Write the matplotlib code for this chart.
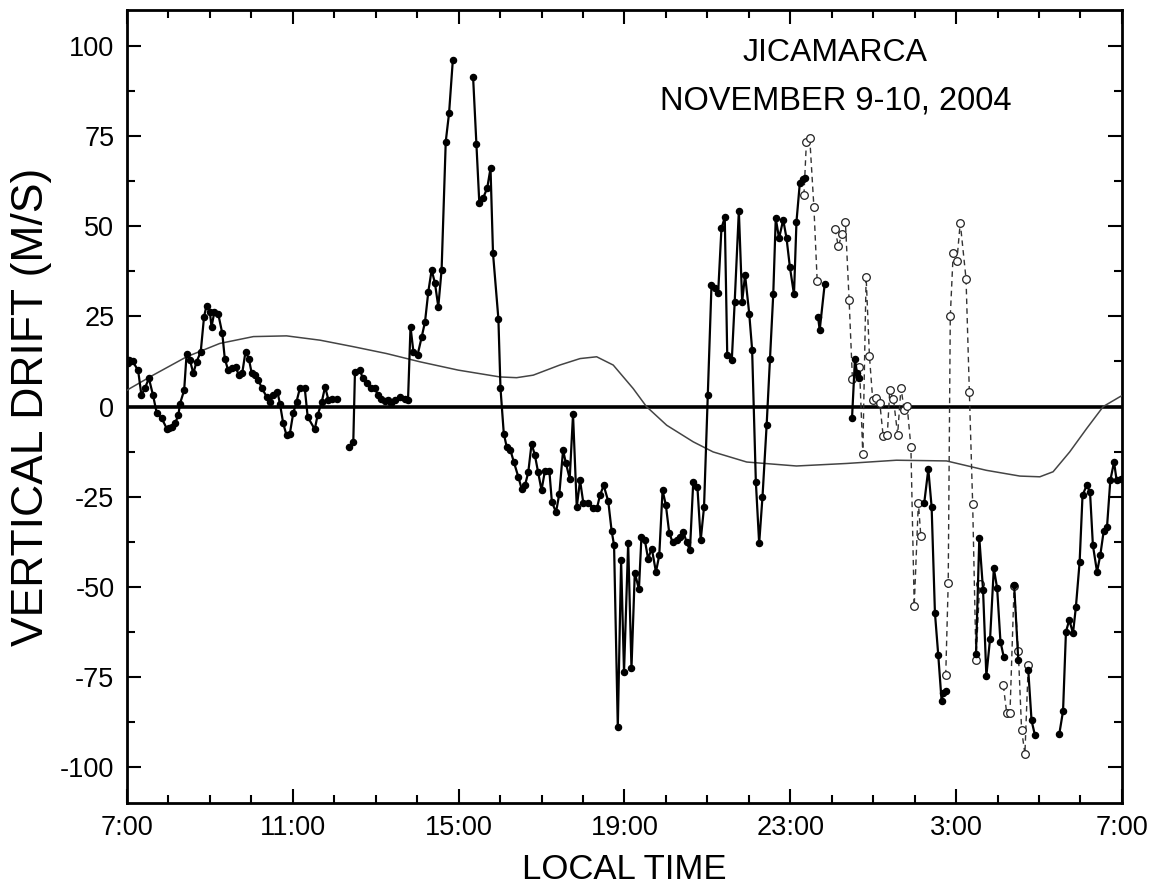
import numpy as np
import matplotlib.pyplot as plt
from matplotlib.ticker import MultipleLocator

plt.rcParams['font.family'] = ['Liberation Sans', 'DejaVu Sans']
plt.rcParams['axes.unicode_minus'] = False

nan = np.nan

# hours after 07:00 LT, drift in m/s ; nan marks a data gap
solid_t = [0.02, 0.05, 0.14, 0.27, 0.35, 0.43, 0.53, 0.63, 0.72, 0.84, 0.96, 1.01, 1.08, 1.16,
           1.24, 1.28, 1.38, 1.44, 1.52, 1.60, 1.68, 1.78, 1.86, 1.92, 2.00, 2.04, 2.11, 2.20,
           2.30, 2.36, 2.44, 2.53, 2.62, 2.70, 2.78, 2.86, 2.94, 3.01, 3.09, 3.17, 3.26, 3.37,
           3.45, 3.53, 3.63, 3.69, 3.77, 3.85, 3.93, 4.01, 4.09, 4.17, 4.29, 4.36, 4.53, 4.60,
           4.70, 4.78, 4.86, 4.94, 5.06, nan,
           5.36, 5.46, 5.50, 5.62, 5.69, 5.78, 5.88, 5.98, 6.06, 6.14, 6.22, 6.30, 6.38, 6.46,
           6.58, 6.71, 6.78, 6.84, 6.91, 7.01, 7.11, 7.19, 7.27, 7.35, 7.43, 7.51, 7.59, 7.69,
           7.77, 7.86, nan,
           8.35, 8.43, 8.50, 8.59, 8.69, 8.77, 8.83, 8.96, 9.01, 9.09, 9.16, 9.25, 9.33, 9.44,
           9.52, 9.60, 9.68, 9.76, 9.84, 9.92, 10.00, 10.08, 10.19, 10.25, 10.35, 10.43, 10.52,
           10.59, 10.68, 10.76, 10.85, 10.93, 11.01, 11.13, 11.25, 11.34, 11.41, 11.50, 11.61,
           11.69, 11.75, 11.84, 11.92, 11.99, 12.09, 12.17, 12.25, 12.35, 12.41, 12.49, 12.57,
           12.66, 12.76, 12.84, 12.92, 13.00, 13.08, 13.16, 13.26, 13.34, 13.42, 13.50, 13.58,
           13.66, 13.76, 13.84, 13.92, 14.01, 14.10, 14.18, 14.26, 14.34, 14.42, 14.48, 14.59,
           14.66, 14.76, 14.84, 14.91, 15.01, 15.08, 15.17, 15.25, 15.33, 15.43, 15.51, 15.59,
           15.65, 15.73, 15.83, 15.91, 15.99, 16.09, 16.15, 16.23, 16.31, 16.35, nan,
           16.67, 16.71, 16.83, nan,
           17.49, 17.56, 17.61, 17.66, nan,
           19.23, 19.33, 19.41, 19.49, 19.57, 19.65, 19.69, 19.75, nan,
           20.48, 20.56, 20.65, 20.73, 20.82, 20.91, 20.99, 21.07, 21.15, nan,
           21.40, 21.50, nan,
           21.74, 21.82, 21.90, nan,
           22.49, 22.58, 22.65, 22.73, 22.82, 22.89, 22.98, 23.05, 23.15, 23.23, 23.30, 23.40,
           23.48, 23.56, 23.64, 23.72, 23.81, 23.87, 23.97]
solid_v = [12.0, 13.0, 12.5, 10.0, 3.1, 5.0, 7.8, 3.1, -1.9, -3.3, -6.1, -6.0, -5.6, -4.7,
           -2.4, 0.8, 4.5, 14.7, 12.9, 9.2, 12.4, 15.2, 24.9, 28.0, 26.3, 22.1, 26.3, 25.8,
           20.3, 13.3, 10.1, 10.6, 11.0, 8.7, 9.2, 15.2, 13.3, 9.2, 8.7, 7.3, 5.0, 2.7,
           1.3, 3.1, 4.1, 0.8, -4.7, -8.0, -7.5, -1.9, 1.3, 5.0, 5.0, -2.9, -6.3, -2.4,
           1.3, 5.5, 1.8, 2.2, 2.2, nan,
           -11.2, -9.8, 9.6, 10.1, 7.8, 6.4, 5.2, 5.0, 3.1, 2.2, 1.5, 1.8, 1.1, 1.8,
           2.7, 2.2, 1.8, 22.1, 15.2, 14.3, 19.3, 23.5, 31.9, 37.9, 34.2, 27.7, 37.9, 73.5,
           81.4, 96.0, nan,
           91.3, 72.8, 56.4, 57.8, 60.6, 66.1, 42.5, 24.3, 5.1, -7.5, -11.2, -12.1, -15.3, -19.5,
           -22.8, -21.9, -18.3, -10.3, -13.5, -18.3, -23.2, -18.0, -18.0, -26.5, -29.3, -24.2, -12.1,
           -15.8, -20.0, -2.2, -27.9, -20.5, -26.9, -26.9, -28.1, -28.1, -24.6, -21.9, -26.3,
           -34.4, -38.5, -89.0, -42.7, -73.7, -38.0, -72.6, -46.1, -50.7, -36.2, -36.9, -42.2,
           -39.4, -45.9, -41.3, -23.2, -27.4, -35.0, -37.6, -37.1, -36.2, -34.8, -37.6, -39.9,
           -20.9, -22.3, -37.1, -27.9, 3.1, 33.7, 32.8, 31.4, 49.4, 52.5, 14.3, 12.9,
           29.1, 54.3, 29.1, 36.5, 25.8, 15.8, -20.9, -38.0, -25.1, -5.2, 13.3, 31.2,
           52.2, 46.7, 51.8, 46.7, 38.8, 31.1, 51.3, 61.9, 63.0, 63.5, nan,
           24.9, 21.2, 33.9, nan,
           -3.2, 13.1, 9.4, 7.8, nan,
           -26.9, -17.4, -27.9, -57.3, -69.0, -81.6, -79.5, -78.8, nan,
           -68.6, -36.5, -50.8, -74.7, -64.4, -44.9, -50.4, -65.2, -69.5, nan,
           -49.5, -70.3, nan,
           -73.0, -87.1, -91.1, nan,
           -90.8, -84.5, -62.5, -59.2, -62.9, -55.6, -43.1, -24.6, -21.9, -23.6, -38.5, -45.9,
           -41.1, -34.6, -33.5, -20.5, -15.4, -20.3, -20.2]

open_t = [16.33, 16.39, 16.47, 16.57, 16.65, nan,
          17.08, 17.16, 17.25, 17.33, 17.42, 17.50, 17.67, 17.75, 17.83, 17.91, 17.99, 18.08,
          18.16, 18.24, 18.34, 18.40, 18.49, 18.59, 18.67, 18.75, 18.82, 18.91, 18.99, 19.09,
          19.15, nan,
          19.75, 19.81, 19.86, 19.93, 20.02, 20.10, 20.24, 20.32, 20.40, 20.48, 20.57, nan,
          21.14, 21.22, 21.30, 21.40, 21.50, 21.58, 21.66, 21.74]
open_v = [58.7, 73.5, 74.5, 55.4, 34.7, nan,
          49.3, 44.4, 48.0, 51.3, 29.5, 7.5, 11.1, -13.3, 36.0, 14.0, 1.7, 2.3,
          1.0, -8.1, -8.0, 4.5, 2.0, -7.8, 5.2, -1.0, 0.1, -11.2, -55.4, -26.7,
          -36.0, nan,
          -74.6, -49.0, 25.0, 42.5, 40.5, 51.0, 35.4, 4.1, -27.1, -70.3, -49.2, nan,
          -77.4, -85.0, -85.0, -49.7, -67.7, -89.7, -96.4, -71.8]

# model (climatological) drift curve
model_t = [0.0, 0.07, 0.63, 1.44, 2.24, 3.05, 3.85, 4.66, 5.46, 6.26, 7.07, 7.99, 9.0, 9.4,
           9.8, 10.44, 10.93, 11.33, 11.73, 12.21, 12.53, 13.02, 13.66, 14.14, 14.95, 16.15,
           17.36, 18.56, 19.77, 20.73, 21.54, 22.02, 22.34, 22.74, 23.15, 23.55, 23.95, 24.0]
model_v = [4.5, 5.0, 8.7, 13.8, 17.5, 19.4, 19.6, 18.4, 16.6, 14.7, 12.4, 10.1, 8.2, 8.0,
           8.7, 11.5, 13.3, 13.8, 11.5, 5.0, 0.0, -5.2, -9.8, -12.6, -15.4, -16.5,
           -15.8, -14.9, -15.1, -17.7, -19.3, -19.5, -18.1, -12.6, -6.1, 0.0, 2.7, 3.0]

tick_labels = ['7:00', '11:00', '15:00', '19:00', '23:00', '3:00', '7:00']

fig = plt.figure(figsize=(11.54, 8.96), dpi=100)
ax = fig.add_axes([0.110, 0.1038, 0.8622, 0.885])

ax.axhline(0, color='black', lw=2.6, zorder=2)
ax.plot(model_t, model_v, color='#444444', lw=1.1, zorder=3)
ax.plot(open_t, open_v, color='#333333', lw=1.0, ls=(0, (4, 3)), marker='o', ms=5.5,
        mfc='white', mec='#222222', mew=0.9, zorder=4)
ax.plot(solid_t, solid_v, color='black', lw=1.6, marker='o', ms=4.4, mfc='black',
        mec='black', zorder=5)

ax.set_xlim(0, 24)
ax.set_ylim(-110, 110)
ax.set_xticks(np.arange(0, 25, 4))
ax.set_xticklabels(tick_labels)
ax.xaxis.set_minor_locator(MultipleLocator(1))
ax.set_yticks([-100, -75, -50, -25, 0, 25, 50, 75, 100])
ax.yaxis.set_minor_locator(MultipleLocator(12.5))
ax.tick_params(which='both', direction='in', top=True, right=True, width=1.5)
ax.tick_params(which='major', length=10, labelsize=19.5, pad=9)
ax.tick_params(which='minor', length=6)
for s in ax.spines.values():
    s.set_linewidth(2)

ax.set_xlabel('LOCAL TIME', fontsize=25, labelpad=8)
ax.set_ylabel('VERTICAL DRIFT (M/S)', fontsize=32, labelpad=6)

ax.text(0.712, 0.965, 'JICAMARCA', transform=ax.transAxes, ha='center', va='top', fontsize=23)
ax.text(0.712, 0.905, 'NOVEMBER 9-10, 2004', transform=ax.transAxes, ha='center', va='top',
        fontsize=23.5)

fig.savefig('out.png', dpi=100)
